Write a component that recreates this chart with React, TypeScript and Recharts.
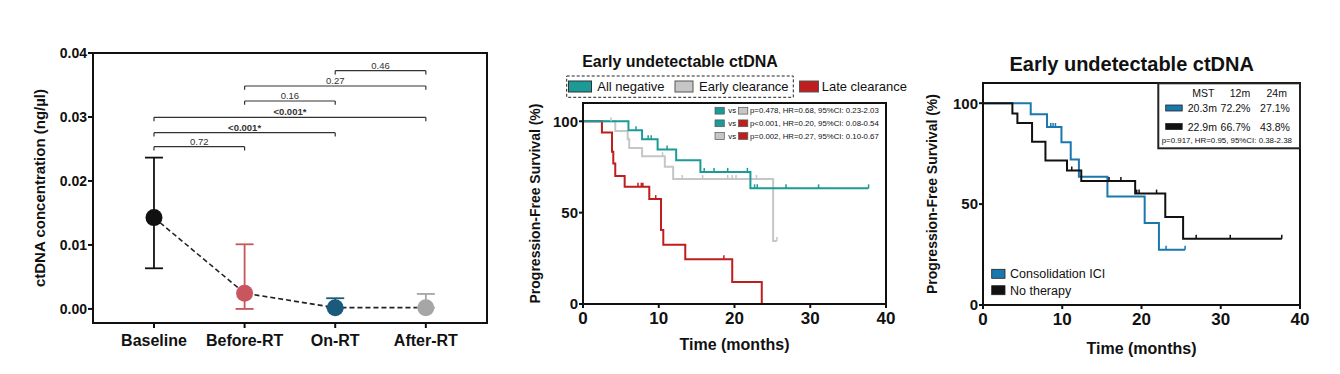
import React from "react";
import {
  ComposedChart,
  Line,
  Scatter,
  XAxis,
  YAxis,
  ErrorBar,
  ReferenceLine,
  ReferenceArea,
} from "recharts";

const FONT = '"Liberation Sans", Arial, Helvetica, sans-serif';

// ---- panel A: ctDNA concentration by time point
const stages = ["Baseline", "Before-RT", "On-RT", "After-RT"];
const stageMean = [0.01427, 0.00245, 0.0002, 0.0002];
const stageUpper = [0.02365, 0.0101, 0.00167, 0.00234];
const stageLower = [0.00635, 0, 0.0002, 0.0002];
const stageColors = ["#111111", "#c9565f", "#1c5a7c", "#a6a6a6"];
const concTicks = [0, 0.01, 0.02, 0.03, 0.04];

// pairwise comparison brackets
const pairFrom = [0, 0, 0, 1, 1, 2];
const pairTo = [1, 2, 3, 2, 3, 3];
const pairLevel = [0.02536, 0.02755, 0.02995, 0.0325, 0.03484, 0.03724];
const pairLabel = ["0.72", "<0.001*", "<0.001*", "0.16", "0.27", "0.46"];
const pairBold = [false, true, true, false, false, false];

// ---- panel B: PFS by ctDNA clearance
const allNegTimes = [6.0, 7.8, 9.85, 12.3, 15.5, 22.1];
const allNegSurv = [95.1, 90.2, 84.6, 78.7, 72.3, 63.3];
const allNegCens = [7.0, 8.6, 9.0, 11.1, 16.0, 17.3, 19.1, 21.7, 22.65, 23.0, 26.8, 31.1, 37.7];

const earlyTimes = [4.26, 5.9, 6.1, 7.8, 10.8, 11.9, 25.1];
const earlySurv = [94.7, 90.2, 85.4, 80.9, 75.1, 68.4, 34.5];
const earlyCens = [3.7, 10.5, 13.1, 15.8, 19.1, 19.7, 20.2, 22.9, 25.6];

const lateTimes = [2.5, 3.83, 4.0, 4.26, 5.5, 8.75, 10.3, 10.6, 13.5, 19.7, 23.6];
const lateSurv = [93.8, 83.3, 76.9, 70.0, 64.2, 57.4, 40.5, 32.4, 24.5, 12.0, 0];
const lateCens = [7.26, 7.7, 7.9, 9.6, 18.6];

const statRows = [
  "p=0.478, HR=0.68, 95%CI: 0.23-2.03",
  "p<0.001, HR=0.20, 95%CI: 0.08-0.54",
  "p=0.002, HR=0.27, 95%CI: 0.10-0.67",
];

// ---- panel C: PFS by consolidation therapy
const consTimes = [6.02, 8.08, 9.9, 11.07, 12.1, 15.7, 20.4, 22.2];
const consSurv = [94.5, 88.2, 80.7, 72.1, 63.5, 53.7, 40.6, 27.4];
const consCens = [8.55, 8.84, 9.14, 23.1, 25.5];

const noTxTimes = [3.71, 4.34, 6.19, 7.88, 10.6, 12.4, 19.2, 23.0, 25.25];
const noTxSurv = [94.9, 90.2, 80.9, 71.6, 66.7, 61.5, 55.2, 43.6, 32.8];
const noTxCens = [11.2, 15.9, 17.4, 19.4, 19.7, 21.9, 26.9, 31.2, 37.7];

const monthTicks = [0, 10, 20, 30, 40];
const pfsTicks = [0, 50, 100];

const TEAL = "#1b9a97";
const GRAY = "#c6c6c6";
const RED = "#bf1e1e";
const BLUE = "#1a78ae";
const BLACK = "#111111";

type Curve = { times: number[]; surv: number[]; end: number; cens: number[]; color: string };

function survAt(c: Curve, t: number) {
  let s = 100;
  c.times.forEach((ti, i) => {
    if (ti <= t) s = c.surv[i];
  });
  return s;
}

function stepPoints(c: Curve) {
  const pts = [{ t: 0, s: 100 }];
  c.times.forEach((t, i) => pts.push({ t, s: c.surv[i] }));
  pts.push({ t: c.end, s: c.surv[c.surv.length - 1] });
  return pts;
}

const tickStyle = { fontFamily: FONT, fontWeight: "bold", fill: "#111" };

function ConcChart() {
  const rows = stages.map((name, i) => ({
    x: i,
    y: stageMean[i],
    err: [stageMean[i] - stageLower[i], stageUpper[i] - stageMean[i]],
  }));
  const tick = 0.0006;
  return (
    <ComposedChart width={500} height={374} margin={{ top: 53, right: 13, left: 0, bottom: 0 }}>
      <XAxis
        type="number"
        dataKey="x"
        domain={[-0.673, 3.675]}
        ticks={[0, 1, 2, 3]}
        tickFormatter={(v: number) => stages[v]}
        height={51}
        stroke="#111"
        strokeWidth={2}
        tickSize={5}
        tickMargin={7}
        tick={{ ...tickStyle, fontSize: 16 }}
        allowDataOverflow
      />
      <YAxis
        type="number"
        dataKey="y"
        domain={[-0.0022, 0.04]}
        ticks={concTicks}
        tickFormatter={(v: number) => v.toFixed(2)}
        width={93}
        stroke="#111"
        strokeWidth={2}
        tickSize={5}
        tickMargin={1}
        tick={{ ...tickStyle, fontSize: 14 }}
        allowDataOverflow
        label={{
          value: "ctDNA concentration (ng/µl)",
          angle: -90,
          position: "insideLeft",
          offset: 40,
          style: { textAnchor: "middle", fontFamily: FONT, fontWeight: "bold", fontSize: 15, fill: "#111" },
        }}
      />
      <ReferenceArea x1={-0.673} x2={3.675} y1={-0.0022} y2={0.04} fill="none" stroke="#111" strokeWidth={2} />
      {pairLevel.map((lv, i) => (
        <ReferenceLine
          key={"p" + i}
          segment={[
            { x: pairFrom[i], y: lv },
            { x: pairTo[i], y: lv },
          ]}
          stroke="#333"
          strokeWidth={1.2}
          label={{
            value: pairLabel[i],
            position: "top",
            offset: 2,
            fontSize: 9.5,
            fontFamily: FONT,
            fontWeight: pairBold[i] ? "bold" : "normal",
            fill: "#333",
          }}
        />
      ))}
      {pairLevel.map((lv, i) => (
        <ReferenceLine
          key={"l" + i}
          segment={[
            { x: pairFrom[i], y: lv },
            { x: pairFrom[i], y: lv - tick },
          ]}
          stroke="#333"
          strokeWidth={1.2}
        />
      ))}
      {pairLevel.map((lv, i) => (
        <ReferenceLine
          key={"r" + i}
          segment={[
            { x: pairTo[i], y: lv },
            { x: pairTo[i], y: lv - tick },
          ]}
          stroke="#333"
          strokeWidth={1.2}
        />
      ))}
      <Line
        data={rows}
        dataKey="y"
        type="linear"
        stroke="#222"
        strokeWidth={1.6}
        strokeDasharray="5 3"
        dot={false}
        isAnimationActive={false}
      />
      {rows.map((r, i) => (
        <Scatter
          key={"s" + i}
          data={[r]}
          dataKey="y"
          isAnimationActive={false}
          shape={(p: any) => <circle cx={p.cx} cy={p.cy} r={8.5} fill={stageColors[i]} />}
        >
          <ErrorBar dataKey="err" direction="y" width={9} stroke={stageColors[i]} strokeWidth={1.8} />
        </Scatter>
      ))}
    </ComposedChart>
  );
}

function KMChart({
  curves,
  width,
  top,
  right,
  xAxisHeight,
  yLabelOffset,
  xLabelOffset,
}: {
  curves: Curve[];
  width: number;
  top: number;
  right: number;
  xAxisHeight: number;
  yLabelOffset: number;
  xLabelOffset: number;
}) {
  return (
    <ComposedChart width={width} height={374} margin={{ top, right, left: 0, bottom: 0 }}>
      <XAxis
        type="number"
        dataKey="t"
        domain={[0, 40]}
        ticks={monthTicks}
        height={xAxisHeight}
        stroke="#111"
        strokeWidth={2}
        tickSize={4}
        tickMargin={4}
        tick={{ ...tickStyle, fontSize: 17 }}
        allowDataOverflow
        label={{
          value: "Time (months)",
          position: "insideBottom",
          offset: xLabelOffset,
          style: { fontFamily: FONT, fontWeight: "bold", fontSize: 16, fill: "#111" },
        }}
      />
      <YAxis
        type="number"
        dataKey="s"
        domain={[0, 110]}
        ticks={pfsTicks}
        width={63}
        stroke="#111"
        strokeWidth={2}
        tickSize={4}
        tickMargin={1}
        tick={{ ...tickStyle, fontSize: 15 }}
        allowDataOverflow
        label={{
          value: "Progression-Free Survival (%)",
          angle: -90,
          position: "insideLeft",
          offset: yLabelOffset,
          style: { textAnchor: "middle", fontFamily: FONT, fontWeight: "bold", fontSize: 14, fill: "#111" },
        }}
      />
      <ReferenceArea x1={0} x2={40} y1={0} y2={110} fill="none" stroke="#111" strokeWidth={2} />
      {curves.map((c, i) => (
        <Line
          key={"c" + i}
          data={stepPoints(c)}
          dataKey="s"
          type="stepAfter"
          stroke={c.color}
          strokeWidth={2}
          dot={false}
          isAnimationActive={false}
        />
      ))}
      {curves.map((c, i) => (
        <Scatter
          key={"k" + i}
          data={c.cens.map((t) => ({ t, s: survAt(c, t) }))}
          dataKey="s"
          isAnimationActive={false}
          shape={(p: any) => (
            <line x1={p.cx} x2={p.cx} y1={p.cy - 4} y2={p.cy} stroke={c.color} strokeWidth={1.5} />
          )}
        />
      ))}
    </ComposedChart>
  );
}

function Txt({
  x,
  y,
  size,
  anchor = "start",
  bold = false,
  children,
}: {
  x: number;
  y: number;
  size: number;
  anchor?: "start" | "middle" | "end";
  bold?: boolean;
  children: React.ReactNode;
}) {
  return (
    <text
      x={x}
      y={y}
      fontSize={size}
      fontFamily={FONT}
      fontWeight={bold ? "bold" : "normal"}
      textAnchor={anchor}
      dominantBaseline="central"
      fill="#111"
    >
      {children}
    </text>
  );
}

export default function App() {
  const clearance: Curve[] = [
    { times: earlyTimes, surv: earlySurv, end: 25.6, cens: earlyCens, color: GRAY },
    { times: lateTimes, surv: lateSurv, end: 23.6, cens: lateCens, color: RED },
    { times: allNegTimes, surv: allNegSurv, end: 37.7, cens: allNegCens, color: TEAL },
  ];
  const therapy: Curve[] = [
    { times: consTimes, surv: consSurv, end: 25.5, cens: consCens, color: BLUE },
    { times: noTxTimes, surv: noTxSurv, end: 37.7, cens: noTxCens, color: BLACK },
  ];
  const statSw = [
    [TEAL, GRAY],
    [TEAL, RED],
    [GRAY, RED],
  ];
  const statY = [110.7, 123.3, 136];
  return (
    <div
      style={{
        position: "absolute",
        left: 0,
        top: 0,
        width: 1340,
        height: 374,
        background: "#fff",
        overflow: "hidden",
      }}
    >
      <div style={{ position: "absolute", left: 0, top: 0 }}>
        <ConcChart />
      </div>
      <div style={{ position: "absolute", left: 520, top: 0 }}>
        <KMChart
          curves={clearance}
          width={380}
          top={103}
          right={14}
          xAxisHeight={70}
          yLabelOffset={15}
          xLabelOffset={24}
        />
      </div>
      <div style={{ position: "absolute", left: 920, top: 0 }}>
        <KMChart
          curves={therapy}
          width={400}
          top={83}
          right={20}
          xAxisHeight={69}
          yLabelOffset={12}
          xLabelOffset={20}
        />
      </div>
      <svg
        width={1340}
        height={374}
        style={{ position: "absolute", left: 0, top: 0, pointerEvents: "none" }}
      >
        {/* panel B title and legend */}
        <Txt x={680} y={61.7} size={16} anchor="middle" bold>
          Early undetectable ctDNA
        </Txt>
        <rect x={566.7} y={76} width={226.6} height={21.3} fill="none" stroke="#222" strokeDasharray="3 2" />
        <rect x={568.5} y={81} width={23} height={11} fill={TEAL} stroke="#333" />
        <Txt x={597.3} y={86.7} size={13}>
          All negative
        </Txt>
        <rect x={675} y={81} width={18} height={11} fill={GRAY} stroke="#555" />
        <Txt x={699} y={86.7} size={13}>
          Early clearance
        </Txt>
        <rect x={799.5} y={81} width={19} height={11} fill={RED} stroke="#555" />
        <Txt x={821.7} y={86.7} size={13}>
          Late clearance
        </Txt>
        {statRows.map((s, i) => (
          <g key={"st" + i}>
            <rect x={715} y={statY[i] - 3.4} width={9.3} height={6.8} fill={statSw[i][0]} stroke="#555" strokeWidth={0.7} />
            <Txt x={728.3} y={statY[i]} size={7.8}>
              vs
            </Txt>
            <rect x={738.5} y={statY[i] - 3.4} width={9.3} height={6.8} fill={statSw[i][1]} stroke="#555" strokeWidth={0.7} />
            <Txt x={750} y={statY[i]} size={7.8}>
              {s}
            </Txt>
          </g>
        ))}

        {/* panel C title and legends */}
        <Txt x={1131.7} y={64} size={20} anchor="middle" bold>
          Early undetectable ctDNA
        </Txt>
        <rect x={1158.3} y={83.3} width={141.7} height={65} fill="#fff" stroke="#222" strokeWidth={2} />
        <Txt x={1203.3} y={93.3} size={10.5} anchor="middle">
          MST
        </Txt>
        <Txt x={1240} y={93.3} size={10.5} anchor="middle">
          12m
        </Txt>
        <Txt x={1276.7} y={93.3} size={10.5} anchor="middle">
          24m
        </Txt>
        <rect x={1165.7} y={105} width={16.5} height={6} fill={BLUE} stroke="#222" strokeWidth={0.8} />
        <Txt x={1202.3} y={107.7} size={10.5} anchor="middle">
          20.3m
        </Txt>
        <Txt x={1235.5} y={107.7} size={10.5} anchor="middle">
          72.2%
        </Txt>
        <Txt x={1275} y={107.7} size={10.5} anchor="middle">
          27.1%
        </Txt>
        <rect x={1165.7} y={123.5} width={16.5} height={6} fill={BLACK} stroke="#222" strokeWidth={0.8} />
        <Txt x={1202.3} y={126.7} size={10.5} anchor="middle">
          22.9m
        </Txt>
        <Txt x={1235.5} y={126.7} size={10.5} anchor="middle">
          66.7%
        </Txt>
        <Txt x={1275} y={126.7} size={10.5} anchor="middle">
          43.8%
        </Txt>
        <Txt x={1161.7} y={140.5} size={7.9}>
          p=0.917, HR=0.95, 95%CI: 0.38-2.38
        </Txt>
        <rect x={991.7} y={269.3} width={13.3} height={9} fill={BLUE} stroke="#222" strokeWidth={0.8} />
        <Txt x={1010} y={274} size={12.5}>
          Consolidation ICI
        </Txt>
        <rect x={991.7} y={285.7} width={13.3} height={9} fill={BLACK} stroke="#222" strokeWidth={0.8} />
        <Txt x={1010} y={290.7} size={12.5}>
          No therapy
        </Txt>
      </svg>
    </div>
  );
}
